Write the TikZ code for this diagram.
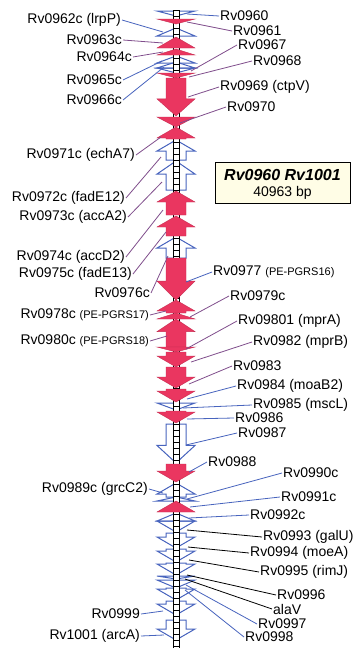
\documentclass[tikz,border=0pt]{standalone}
\usepackage{fontspec}
\setmainfont{Liberation Sans}
\definecolor{genered}{RGB}{234,54,96}
\definecolor{geneblue}{RGB}{72,100,190}
\definecolor{leadpurple}{RGB}{128,78,140}
\definecolor{boxfill}{RGB}{255,253,230}
% forward gene: arrow pointing down, from y1 to y2
\newcommand\geneDn[3]{%
  \pgfmathsetmacro\gL{#2-#1}%
  \pgfmathsetmacro\gH{min(\gL,max(11,0.45*\gL))}%
  \pgfmathsetmacro\gB{#2-\gH}%
  \path[#3] (166,#1) -- (186,#1) -- (186,\gB) -- (195,\gB) -- (176,#2) -- (157,\gB) -- (166,\gB) -- cycle;}
% complement gene: arrow pointing up, from y1 to y2
\newcommand\geneUp[3]{%
  \pgfmathsetmacro\gL{#2-#1}%
  \pgfmathsetmacro\gH{min(\gL,max(11,0.45*\gL))}%
  \pgfmathsetmacro\gB{#1+\gH}%
  \path[#3] (176,#1) -- (195,\gB) -- (186,\gB) -- (186,#2) -- (166,#2) -- (166,\gB) -- (157,\gB) -- cycle;}
\begin{document}
\begin{tikzpicture}[x=1pt,y=-1pt,
  redgene/.style={fill=genered, draw=genered!85!black, line width=0.4pt},
  bluegene/.style={draw=geneblue, line width=1pt},
  lab/.style={font=\fontsize{14}{16}\selectfont, inner sep=1pt},
  leadR/.style={draw=leadpurple, line width=0.8pt},
  leadB/.style={draw=geneblue, line width=0.8pt},
  leadK/.style={draw=black, line width=0.8pt}]
\useasboundingbox (0,0) rectangle (364,648);
\fill[white] (0,0) rectangle (364,648);

% genes on the outlined category (drawn below the spine)
\geneDn{11}{16}{bluegene}
\geneUp{28}{36}{bluegene}
\geneUp{56}{63}{bluegene}
\geneUp{62}{68}{bluegene}
\geneDn{68}{73}{bluegene}
\geneUp{140}{160}{bluegene}
\geneUp{161}{190}{bluegene}
\geneUp{237}{258}{bluegene}
\geneDn{403}{410}{bluegene}
\geneDn{424}{463}{bluegene}
\geneUp{483}{497}{bluegene}
\geneUp{497}{501}{bluegene}
\geneUp{513}{521}{bluegene}
\geneDn{521}{532}{bluegene}
\geneDn{533}{548}{bluegene}
\geneDn{549}{562}{bluegene}
\geneDn{563}{575}{bluegene}
\geneDn{576}{579}{bluegene}
\geneDn{580}{588}{bluegene}
\geneDn{588}{600}{bluegene}
\geneDn{601}{615}{bluegene}
\geneDn{620}{640}{bluegene}

% chromosome spine with rungs
\draw[fill=white, line width=0.8pt] (173,10) rectangle (179,652);
\foreach \y in {16,22,...,646} \draw[line width=0.6pt] (173,\y) -- (179,\y);

% genes on the filled category
\geneDn{19}{24}{redgene}
\geneUp{37}{48}{redgene}
\geneUp{49}{55}{redgene}
\geneDn{73}{78}{redgene}
\geneDn{78}{116}{redgene}
\geneDn{117}{127}{redgene}
\geneUp{127}{139}{redgene}
\geneUp{191}{215}{redgene}
\geneUp{216}{236}{redgene}
\geneDn{258}{300}{redgene}
\geneUp{300}{313}{redgene}
\geneUp{313}{319}{redgene}
\geneUp{319}{347}{redgene}
\geneDn{347}{352}{redgene}
\geneDn{352}{367}{redgene}
\geneDn{367}{388}{redgene}
\geneDn{389}{402}{redgene}
\geneDn{411}{423}{redgene}
\geneDn{464}{482}{redgene}
\geneUp{501}{512}{redgene}

% attachment points of the leader lines
\coordinate (g0960) at (187,14);
\coordinate (g0961) at (187,22);
\coordinate (g0962) at (163,32);
\coordinate (g0963) at (163,43);
\coordinate (g0964) at (163,52);
\coordinate (g0965) at (162,61);
\coordinate (g0966) at (164,67);
\coordinate (g0967) at (191,71);
\coordinate (g0968) at (189,77);
\coordinate (g0969) at (188,97);
\coordinate (g0970) at (180,123);
\coordinate (g0971) at (161,137);
\coordinate (g0972) at (161,157);
\coordinate (g0973) at (162,182);
\coordinate (g0974) at (163,210);
\coordinate (g0975) at (166,232);
\coordinate (g0976) at (168,256);
\coordinate (g0977) at (186,282);
\coordinate (g0978) at (166,311);
\coordinate (g0979) at (190,317);
\coordinate (g0980) at (167,336);
\coordinate (g09801) at (186,349);
\coordinate (g0982) at (191,362);
\coordinate (g0983) at (189,384);
\coordinate (g0984) at (187,399);
\coordinate (g0985) at (183,408);
\coordinate (g0986) at (187,419);
\coordinate (g0987) at (186,445);
\coordinate (g0988) at (189,472);
\coordinate (g0989) at (163,493);
\coordinate (g0990) at (187,499);
\coordinate (g0991) at (190,507);
\coordinate (g0992) at (189,518);
\coordinate (g0993) at (187,530);
\coordinate (g0994) at (188,547);
\coordinate (g0995) at (189,560);
\coordinate (g0996) at (187,575);
\coordinate (galaV) at (185,579);
\coordinate (g0997) at (186,585);
\coordinate (g0998) at (185,590);
\coordinate (g0999) at (163,611);
\coordinate (g1001) at (164,635);

% labels, left side
\node[lab, anchor=east] (t0962) at (122,20) {Rv0962c (lrpP)};
\node[lab, anchor=east] (t0963) at (123,40) {Rv0963c};
\node[lab, anchor=east] (t0964) at (133,57) {Rv0964c};
\node[lab, anchor=east] (t0965) at (123,80) {Rv0965c};
\node[lab, anchor=east] (t0966) at (123,100) {Rv0966c};
\node[lab, anchor=east] (t0971) at (136,155) {Rv0971c (echA7)};
\node[lab, anchor=east] (t0972) at (126,198) {Rv0972c (fadE12)};
\node[lab, anchor=east] (t0973) at (128,217) {Rv0973c (accA2)};
\node[lab, anchor=east] (t0974) at (126,257) {Rv0974c (accD2)};
\node[lab, anchor=east] (t0975) at (133,274) {Rv0975c (fadE13)};
\node[lab, anchor=east] (t0976) at (151,293) {Rv0976c};
\node[lab, anchor=east] (t0978) at (150,315) {Rv0978c {\fontsize{11}{13}\selectfont(PE-PGRS17)}};
\node[lab, anchor=east] (t0980) at (150,341) {Rv0980c {\fontsize{11}{13}\selectfont(PE-PGRS18)}};
\node[lab, anchor=east] (t0989) at (149,489) {Rv0989c (grcC2)};
\node[lab, anchor=east] (t0999) at (141,614) {Rv0999};
\node[lab, anchor=east] (t1001) at (141,636) {Rv1001 (arcA)};

% labels, right side
\node[lab, anchor=west] (t0960) at (219,16) {Rv0960};
\node[lab, anchor=west] (t0961) at (232,31) {Rv0961};
\node[lab, anchor=west] (t0967) at (237,45) {Rv0967};
\node[lab, anchor=west] (t0968) at (252,61) {Rv0968};
\node[lab, anchor=west] (t0969) at (219,87) {Rv0969 (ctpV)};
\node[lab, anchor=west] (t0970) at (226,107) {Rv0970};
\node[lab, anchor=west] (t0977) at (212,272) {Rv0977 {\fontsize{11}{13}\selectfont(PE-PGRS16)}};
\node[lab, anchor=west] (t0979) at (229,296) {Rv0979c};
\node[lab, anchor=west] (t09801) at (237,321) {Rv09801 (mprA)};
\node[lab, anchor=west] (t0982) at (252,342) {Rv0982 (mprB)};
\node[lab, anchor=west] (t0983) at (232,366) {Rv0983};
\node[lab, anchor=west] (t0984) at (236,386) {Rv0984 (moaB2)};
\node[lab, anchor=west] (t0985) at (252,405) {Rv0985 (mscL)};
\node[lab, anchor=west] (t0986) at (234,418) {Rv0986};
\node[lab, anchor=west] (t0987) at (237,433) {Rv0987};
\node[lab, anchor=west] (t0988) at (207,462) {Rv0988};
\node[lab, anchor=west] (t0990) at (282,473) {Rv0990c};
\node[lab, anchor=west] (t0991) at (280,497) {Rv0991c};
\node[lab, anchor=west] (t0992) at (249,515) {Rv0992c};
\node[lab, anchor=west] (t0993) at (262,537) {Rv0993 (galU)};
\node[lab, anchor=west] (t0994) at (249,553) {Rv0994 (moeA)};
\node[lab, anchor=west] (t0995) at (259,572) {Rv0995 (rimJ)};
\node[lab, anchor=west] (t0996) at (276,595) {Rv0996};
\node[lab, anchor=west] (talaV) at (272,609) {alaV};
\node[lab, anchor=west] (t0997) at (257,624) {Rv0997};
\node[lab, anchor=west] (t0998) at (244,637) {Rv0998};

% leader lines
\draw[leadB] (t0962.east) -- (g0962);
\draw[leadR] (t0963.east) -- (g0963);
\draw[leadR] (t0964.east) -- (g0964);
\draw[leadB] (t0965.east) -- (g0965);
\draw[leadB] (t0966.east) -- (g0966);
\draw[leadR] (t0971.east) -- (g0971);
\draw[leadR] (t0972.east) -- (g0972);
\draw[leadR] (t0973.east) -- (g0973);
\draw[leadR] (t0974.east) -- (g0974);
\draw[leadR] (t0975.east) -- (g0975);
\draw[leadR] (t0976.east) -- (g0976);
\draw[leadR] (t0978.east) -- (g0978);
\draw[leadR] (t0980.east) -- (g0980);
\draw[leadB] (t0989.east) -- (g0989);
\draw[leadB] (t0999.east) -- (g0999);
\draw[leadB] (t1001.east) -- (g1001);
\draw[leadB] (t0960.west) -- (g0960);
\draw[leadR] (t0961.west) -- (g0961);
\draw[leadR] (t0967.west) -- (g0967);
\draw[leadR] (t0968.west) -- (g0968);
\draw[leadR] (t0969.west) -- (g0969);
\draw[leadR] (t0970.west) -- (g0970);
\draw[leadB] (t0977.west) -- (g0977);
\draw[leadR] (t0979.west) -- (g0979);
\draw[leadR] (t09801.west) -- (g09801);
\draw[leadR] (t0982.west) -- (g0982);
\draw[leadR] (t0983.west) -- (g0983);
\draw[leadB] (t0984.west) -- (g0984);
\draw[leadB] (t0985.west) -- (g0985);
\draw[leadB] (t0986.west) -- (g0986);
\draw[leadB] (t0987.west) -- (g0987);
\draw[leadB] (t0988.west) -- (g0988);
\draw[leadB] (t0990.west) -- (g0990);
\draw[leadB] (t0991.west) -- (g0991);
\draw[leadB] (t0992.west) -- (g0992);
\draw[leadK] (t0993.west) -- (g0993);
\draw[leadK] (t0994.west) -- (g0994);
\draw[leadK] (t0995.west) -- (g0995);
\draw[leadK] (t0996.west) -- (g0996);
\draw[leadK] (talaV.west) -- (galaV);
\draw[leadB] (t0997.west) -- (g0997);
\draw[leadB] (t0998.west) -- (g0998);

% region caption
\node[draw, fill=boxfill, line width=0.9pt, minimum width=135pt, minimum height=41pt,
      inner sep=0pt] (info) at (282.5,182.5) {};
\node[inner sep=0pt, font=\fontsize{16}{18}\selectfont\bfseries\itshape]
  (infotitle) at (282.5,175) {Rv0960 Rv1001};
\node[inner sep=0pt, font=\fontsize{14}{16}\selectfont]
  (infolen) at (282.5,193) {40963 bp};
\end{tikzpicture}
\end{document}
